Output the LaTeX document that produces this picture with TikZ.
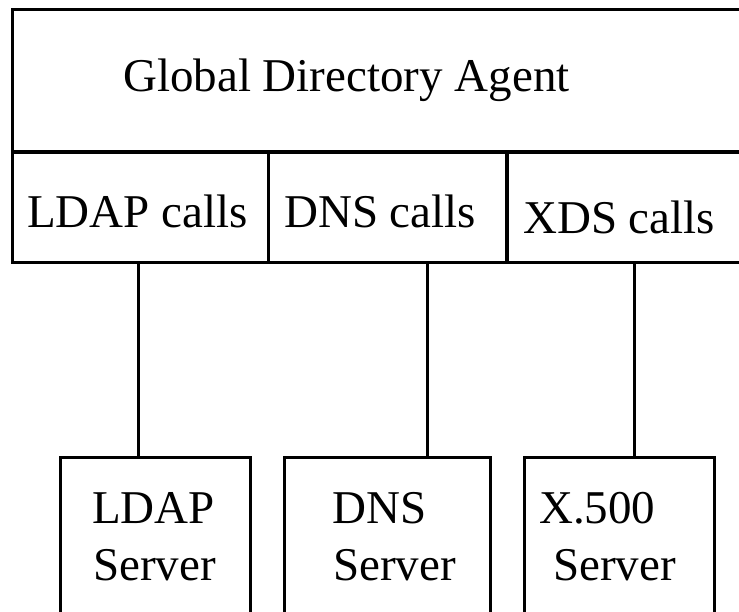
\documentclass[tikz,border=0pt]{standalone}
\usepackage{fontspec}
\setmainfont{Liberation Serif}
\begin{document}
\begin{tikzpicture}[x=1pt,y=-1pt,
  box/.style={draw, line width=3pt, inner sep=0pt, outer sep=0pt, anchor=north west},
  lbl/.style={font=\fontsize{47}{57}\selectfont, inner sep=0pt, anchor=base west},
  wire/.style={line width=3pt}]
\useasboundingbox (0,0) rectangle (739,611);
\clip (0,0) rectangle (739,611);
% top box
\node[box, minimum width=760pt, minimum height=143pt] (gda) at (12,9) {};
\node[lbl] (gdat) at (123,91) {Global Directory Agent};
% call cells
\node[box, minimum width=256pt, minimum height=110pt] (ldapc) at (12,152) {};
\node[box, minimum width=239pt, minimum height=110pt] (dnsc) at (268,152) {};
\node[box, minimum width=260pt, minimum height=110pt] (xdsc) at (507,152) {};
\draw[line width=4.5pt] (gda.south west) -- (gda.south east);
\draw[line width=4pt] (xdsc.north west) -- (xdsc.south west);
\node[lbl] (ldapct) at (27,227) {LDAP calls};
\node[lbl] (dnsct) at (284,227) {DNS calls};
\node[lbl] (xdsct) at (523,233) {XDS calls};
% servers
\node[box, minimum width=190pt, minimum height=200pt] (ldaps) at (60,457) {};
\node[box, minimum width=206pt, minimum height=200pt] (dnss) at (284,457) {};
\node[box, minimum width=190pt, minimum height=200pt] (xs) at (524,457) {};
\node[lbl] (ldaps1) at (92,523) {LDAP};
\node[lbl] (ldaps2) at (93,580) {Server};
\node[lbl] (dnss1) at (332,523) {DNS};
\node[lbl] (dnss2) at (333,580) {Server};
\node[lbl] (xs1) at (539,523) {X.500};
\node[lbl] (xs2) at (553,580) {Server};
% connectors
\coordinate (c1) at (138,0);
\coordinate (c2) at (427,0);
\coordinate (c3) at (634,0);
\draw[wire] (ldapc.south -| c1) -- (ldaps.north -| c1);
\draw[wire] (dnsc.south -| c2) -- (dnss.north -| c2);
\draw[wire] (xdsc.south -| c3) -- (xs.north -| c3);
\end{tikzpicture}
\end{document}
